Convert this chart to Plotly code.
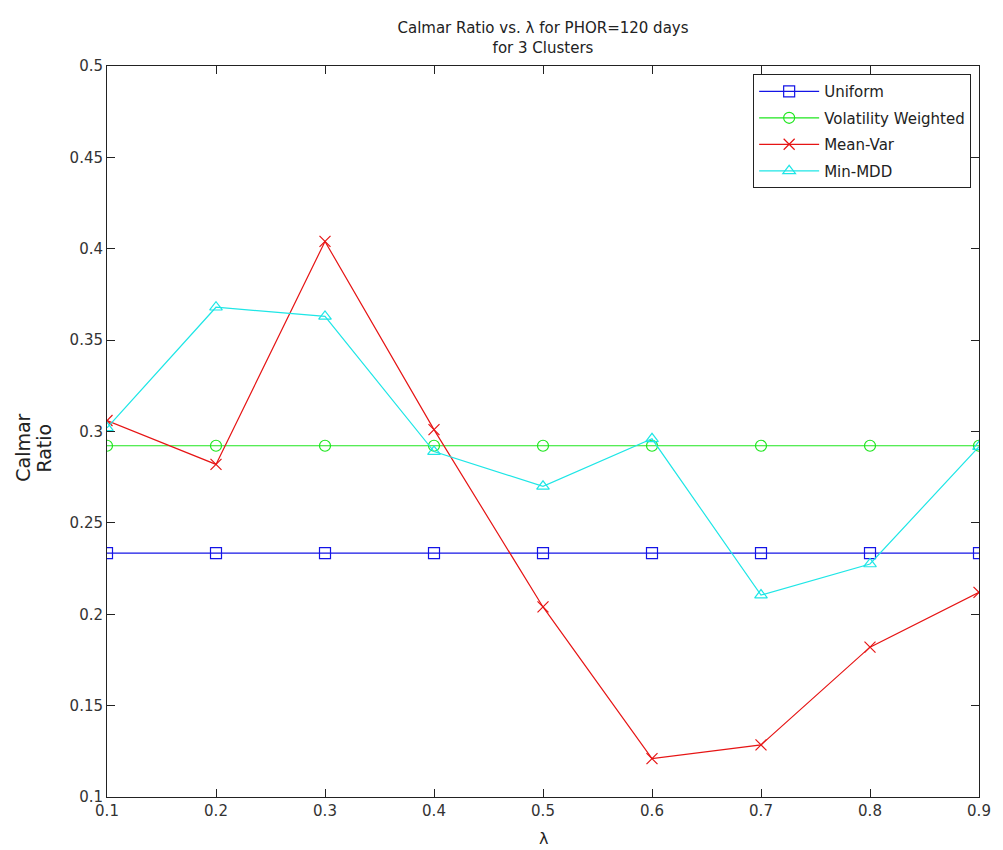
import plotly.graph_objects as go

lam = [0.1, 0.2, 0.3, 0.4, 0.5, 0.6, 0.7, 0.8, 0.9]
uniform = [0.2335, 0.2335, 0.2335, 0.2335, 0.2335, 0.2335, 0.2335, 0.2335, 0.2335]
vol_weighted = [0.2922, 0.2922, 0.2922, 0.2922, 0.2922, 0.2922, 0.2922, 0.2922, 0.2922]
mean_var = [0.306, 0.282, 0.404, 0.301, 0.204, 0.121, 0.1285, 0.182, 0.212]
min_mdd = [0.302, 0.368, 0.363, 0.289, 0.270, 0.296, 0.2105, 0.2275, 0.2917]

x_ticks = [0.1, 0.2, 0.3, 0.4, 0.5, 0.6, 0.7, 0.8, 0.9]
y_ticks = [0.1, 0.15, 0.2, 0.25, 0.3, 0.35, 0.4, 0.45, 0.5]
x_labels = ["0.1", "0.2", "0.3", "0.4", "0.5", "0.6", "0.7", "0.8", "0.9"]
y_labels = ["0.1", "0.15", "0.2", "0.25", "0.3", "0.35", "0.4", "0.45", "0.5"]

FONT = "DejaVu Sans"

series = [
    ("Uniform", uniform, "#1414e6", "square-open"),
    ("Volatility Weighted", vol_weighted, "#1ee61e", "circle-open"),
    ("Mean-Var", mean_var, "#e61414", "x-thin-open"),
    ("Min-MDD", min_mdd, "#1ee6e6", "triangle-up-open"),
]

fig = go.Figure()
for i, (name, vals, col, sym) in enumerate(series):
    fig.add_trace(go.Scatter(
        x=lam, y=vals, name=name, mode="lines+markers",
        line=dict(color=col, width=1.2),
        marker=dict(symbol=sym, size=11, color=col, line=dict(color=col, width=1.2)),
        legendgroup="g%d" % i,
    ))

axis_common = dict(
    showline=True, linecolor="#222222", linewidth=1, mirror="ticks",
    ticks="inside", ticklen=8, tickcolor="#222222", tickwidth=1,
    showgrid=False, zeroline=False,
    tickfont=dict(family=FONT, size=15, color="#333333"),
)

fig.update_xaxes(range=[0.1, 0.9], tickvals=x_ticks, ticktext=x_labels, **axis_common)
fig.update_yaxes(range=[0.1, 0.5], tickvals=y_ticks, ticktext=y_labels, **axis_common)

fig.update_layout(
    width=1003, height=850,
    margin=dict(l=107, r=16, t=66, b=53),
    paper_bgcolor="white", plot_bgcolor="white",
    title=dict(
        text="Calmar Ratio vs. λ for PHOR=120 days<br>for 3 Clusters",
        font=dict(family=FONT, size=15, color="#222222"),
        x=0.5, xref="paper", xanchor="center",
        y=1 - 33 / 850, yref="container", yanchor="middle",
    ),
    legend=dict(
        x=0.991, y=0.989, xanchor="right", yanchor="top",
        bordercolor="#222222", borderwidth=1, bgcolor="white",
        font=dict(family=FONT, size=15, color="#222222"),
        tracegroupgap=4, itemwidth=60,
    ),
    showlegend=True,
)


def px_x(p):
    return (p - 107) / (1003 - 107 - 16)


def px_y(p):
    return (850 - 53 - p) / (850 - 66 - 53)


fig.add_annotation(text="Calmar", x=px_x(22), y=px_y(448), xref="paper", yref="paper",
                   xanchor="center", yanchor="middle",
                   showarrow=False, textangle=-90,
                   font=dict(family=FONT, size=19, color="#222222"))
fig.add_annotation(text="Ratio", x=px_x(43), y=px_y(448), xref="paper", yref="paper",
                   xanchor="center", yanchor="middle",
                   showarrow=False, textangle=-90,
                   font=dict(family=FONT, size=19, color="#222222"))
fig.add_annotation(text="λ", x=0.5, y=px_y(838), xref="paper", yref="paper",
                   xanchor="center", yanchor="middle",
                   showarrow=False, font=dict(family=FONT, size=16, color="#222222"))

fig.write_html("out.html")
